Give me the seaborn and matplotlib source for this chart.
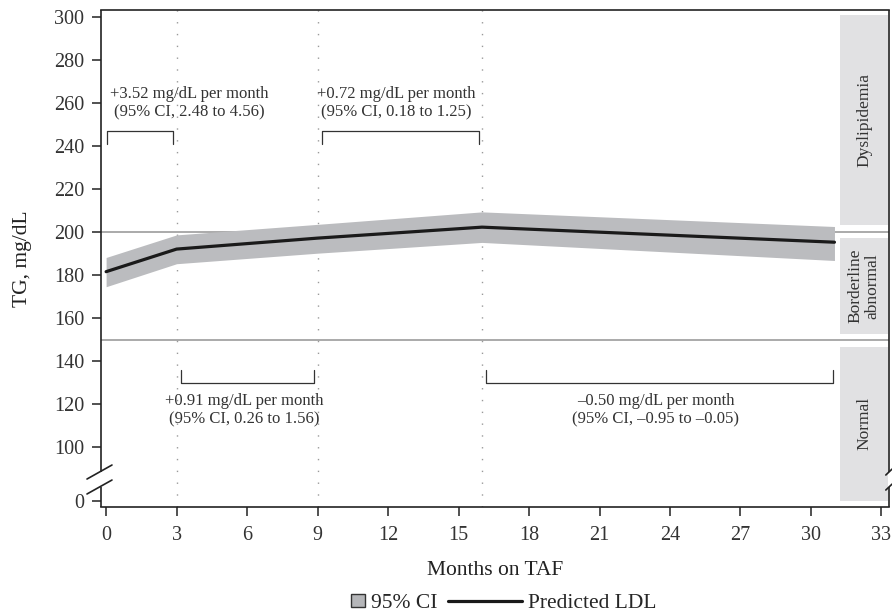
import numpy as np
import pandas as pd
import seaborn as sns
import matplotlib.pyplot as plt
from matplotlib.patches import Rectangle, Patch
from matplotlib.lines import Line2D
from matplotlib.legend_handler import HandlerPatch

# predicted TG curve (knots at 0, 3, 9, 16 and 31 months)
months = [0, 3, 9, 16, 31]
predicted = [181.6, 192.1, 197.2, 202.3, 195.3]
ci_lower = [174.6, 185.3, 190.2, 195.2, 186.8]
ci_upper = [188.2, 198.7, 203.6, 209.4, 202.6]

knots = [3, 9, 16]
cutoffs = [200, 150]

# category bands on the right side
band_names = ['Dyslipidemia', 'Borderline\nabnormal', 'Normal']
band_low = [203.4, 152.6, 0]
band_high = [300.9, 197.4, 146.8]
band_label_y = [252, 175, 111]

# slope annotations
slope_texts = [
    '+3.52 mg/dL per month\n(95% CI, 2.48 to 4.56)',
    '+0.72 mg/dL per month\n(95% CI, 0.18 to 1.25)',
    '+0.91 mg/dL per month\n(95% CI, 0.26 to 1.56)',
    '\u20130.50 mg/dL per month\n(95% CI, \u20130.95 to \u20130.05)',
]
slope_x = [3.53, 12.35, 5.9, 23.4]
slope_y = [260, 260, 117.2, 117.2]
bracket_start = [0.05, 9.2, 3.2, 16.15]
bracket_end = [2.85, 15.87, 8.85, 30.95]
bracket_top = [True, True, False, False]

BAND_GRAY = '#bbbcbf'
BOX_GRAY = '#e1e1e3'
DARK = '#222222'
TEXT = '#333333'


def fwd(y):
    y = np.asarray(y, dtype=float)
    return np.where(y >= 100, y, 75 + 0.25 * y)


def inv(v):
    v = np.asarray(v, dtype=float)
    return np.where(v >= 100, v, (v - 75) * 4)


class SquareHandler(HandlerPatch):
    def create_artists(self, legend, orig_handle, xdescent, ydescent,
                       width, height, fontsize, trans):
        s = height * 0.9
        p = Rectangle((width - s - xdescent, -ydescent + (height - s) / 2), s, s,
                      fc=orig_handle.get_facecolor(), ec=orig_handle.get_edgecolor(),
                      lw=orig_handle.get_linewidth(), transform=trans)
        return [p]


sns.set_style('ticks')
plt.rcParams['font.family'] = ['Liberation Serif', 'DejaVu Serif']

fig, ax = plt.subplots(figsize=(8.92, 6.13), dpi=100)
fig.subplots_adjust(left=0.1129, right=0.9966, bottom=0.1729, top=0.9837)
ax.set_yscale('function', functions=(fwd, inv))

df = pd.DataFrame({'month': months, 'tg': predicted, 'lo': ci_lower, 'hi': ci_upper})

ax.fill_between(df['month'], df['lo'], df['hi'], color=BAND_GRAY, lw=0, zorder=2)
sns.lineplot(data=df, x='month', y='tg', color='#1a1a1a', lw=2.3, ax=ax,
             legend=False, zorder=3)

for c in cutoffs:
    ax.axhline(c, color='#9c9c9c', lw=1.2, zorder=1)
for k in knots:
    ax.axvline(k, color='#9a9a9a', lw=1.0, ls=(0, (1, 7.5)), zorder=1)

ytrans = ax.get_yaxis_transform()
for name, lo, hi, ly in zip(band_names, band_low, band_high, band_label_y):
    ax.add_patch(Rectangle((0.938, lo), 0.0607, hi - lo, transform=ytrans,
                           fc=BOX_GRAY, ec='none', zorder=1.5))
    ax.text(0.9685, ly, name, transform=ytrans, rotation=90, ha='center',
            va='center', fontsize=12.5, color=TEXT, linespacing=1.05)

for txt, tx, ty, x0, x1, top in zip(slope_texts, slope_x, slope_y,
                                    bracket_start, bracket_end, bracket_top):
    ax.text(tx, ty, txt, ha='center', va='center', fontsize=12,
            color=TEXT, linespacing=1.15, zorder=4)
    if top:
        ys = [241.0, 247.0, 247.0, 241.0]
    else:
        ys = [135.9, 129.8, 129.8, 135.9]
    ax.plot([x0, x0, x1, x1], ys, color='#333333', lw=0.9, zorder=4)

ax.set_xlim(-0.23, 33.32)
ax.set_ylim(-11.2, 303.25)
ax.set_xticks(range(0, 34, 3))
ax.set_yticks([0, 100, 120, 140, 160, 180, 200, 220, 240, 260, 280, 300])
ax.yaxis.set_minor_locator(plt.NullLocator())

# broken axis: custom left/right spines with a gap and slashes
for side in ['left', 'right']:
    ax.spines[side].set_visible(False)
for s in ['top', 'bottom']:
    ax.spines[s].set_color(DARK)
    ax.spines[s].set_linewidth(1.2)
gap_lo, gap_hi = 0.0402, 0.0704
for xs in [0, 1]:
    ax.plot([xs, xs], [0, gap_lo], transform=ax.transAxes, color=DARK,
            lw=1.2, clip_on=False, solid_capstyle='butt')
    ax.plot([xs, xs], [gap_hi, 1], transform=ax.transAxes, color=DARK,
            lw=1.2, clip_on=False, solid_capstyle='butt')
ax.plot([-0.0174, 0.0143], [0.0563, 0.0845], transform=ax.transAxes,
        color=DARK, lw=1.2, clip_on=False)
ax.plot([-0.0174, 0.0143], [0.0262, 0.0543], transform=ax.transAxes,
        color=DARK, lw=1.2, clip_on=False)
for gy in [gap_lo, gap_hi]:
    ax.plot([0.996, 1.004], [gy - 0.006, gy + 0.006], transform=ax.transAxes,
            color=DARK, lw=1.2, clip_on=False)

ax.tick_params(direction='out', length=6.5, width=1.1, color=DARK,
               labelsize=14.5, labelcolor=TEXT)
ax.tick_params(axis='y', pad=5.5)
ax.tick_params(axis='x', pad=7)

ax.set_xlabel('Months on TAF', fontsize=15.5, color=DARK, labelpad=12)
ax.set_ylabel('TG, mg/dL', fontsize=15.5, color=DARK, labelpad=16)

handles = [Patch(fc='#b5b6b9', ec='#333333', lw=1.0),
           Line2D([], [], color='#1a1a1a', lw=2.3)]
fig.legend(handles, ['95% CI', 'Predicted LDL'], ncol=2, frameon=False,
           loc='center left', bbox_to_anchor=(0.305, 0.0163), fontsize=15.5,
           handlelength=3.4, handletextpad=0.3, columnspacing=0.5,
           handler_map={Patch: SquareHandler()})

fig.savefig('out.png', dpi=100)
